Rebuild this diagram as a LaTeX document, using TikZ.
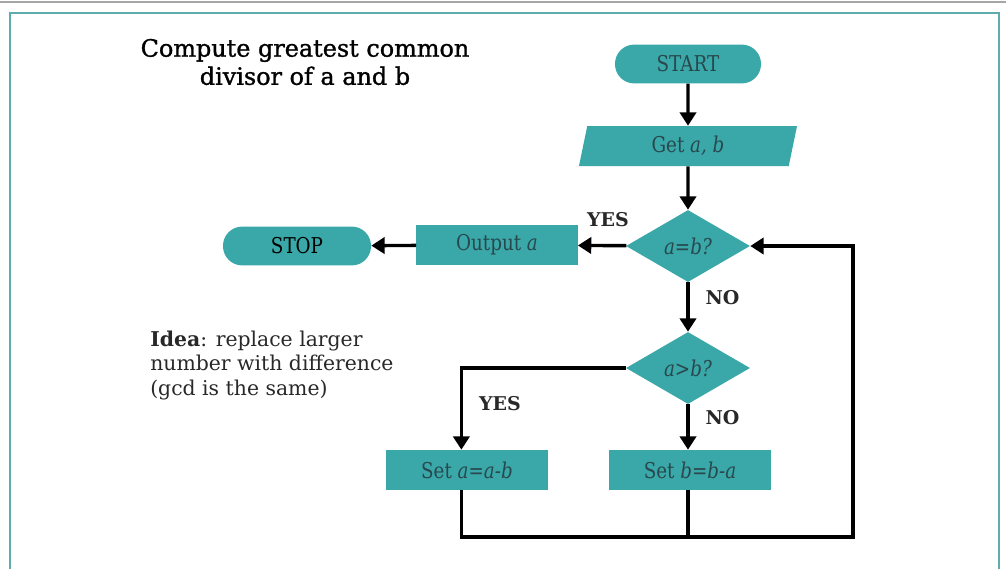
\documentclass[tikz,border=0pt]{standalone}
\usepackage{fontspec}
\setmainfont{DejaVu Serif}
\newfontfamily\boxfont[FakeStretch=0.84]{DejaVu Serif}
\newfontfamily\titlefont[FakeBold=1.2]{DejaVu Serif}
\usetikzlibrary{shapes.geometric,arrows.meta}

\definecolor{boxteal}{RGB}{58,168,168}
\definecolor{frameteal}{RGB}{96,172,172}
\definecolor{boxtext}{RGB}{40,72,78}
\definecolor{labeltext}{RGB}{40,40,40}

\tikzset{
  flow/.style={line width=2.4pt,-{Triangle[width=11.5pt,length=9.5pt]}},
  link/.style={line width=2.4pt},
  terminal/.style={fill=boxteal,rounded corners=0.48cm,minimum height=0.97cm,
    text=boxtext,font=\boxfont\fontsize{15.5}{17}\selectfont,inner sep=0pt},
  process/.style={fill=boxteal,minimum width=4.05cm,minimum height=1cm,
    text=boxtext,font=\boxfont\fontsize{15.5}{17}\selectfont,inner sep=0pt},
  io/.style={trapezium,trapezium left angle=67,trapezium right angle=113,
    trapezium stretches body,fill=boxteal,minimum width=5.45cm,minimum height=1cm,
    text=boxtext,font=\boxfont\fontsize{15.5}{17}\selectfont,inner sep=0pt},
  decision/.style={diamond,fill=boxteal,minimum width=3.1cm,minimum height=1.8cm,
    aspect=1.7,inner sep=0pt,text=boxtext,font=\boxfont\fontsize{15.5}{17}\selectfont},
  answer/.style={text=labeltext,font=\bfseries\fontsize{13.5}{15}\selectfont},
}

\begin{document}
\begin{tikzpicture}[x=0.025cm,y=-0.025cm]
    \useasboundingbox (0,0) rectangle (1006,568);

    % frame
    \draw[gray!70,line width=1pt] (0,2) -- (1006,2);
    \draw[frameteal,line width=1.6pt] (10,13) rectangle (999,590);

    % notes
    \node[align=center,text=black,font=\titlefont\fontsize{17}{20}\selectfont] (title) at (305,62)
        {Compute greatest common\\divisor of a and b};
    \node[align=left,anchor=north west,inner sep=0pt,text=labeltext,
        font=\fontsize{14.5}{17.2}\selectfont] (idea) at (150,331)
        {\textbf{Idea}: replace larger\\number with difference\\(gcd is the same)};

    % boxes
    \node[terminal,minimum width=3.65cm] (start) at (688,64) {START};
    \node[io] (get) at (688,146) {Get \textit{a, b}};
    \node[decision] (eq) at (688,246) {\textit{a=b?}};
    \node[process,minimum width=4.03cm] (out) at (497,245) {Output \textit{a}};
    \node[terminal,minimum width=3.7cm,text=black] (stop) at (297,246) {STOP};
    \node[decision] (gt) at (688,368) {\textit{a>b?}};
    \node[process] (seta) at (467,470) {Set \textit{a=a-b}};
    \node[process] (setb) at (690,470) {Set \textit{b=b-a}};
    \coordinate (loop) at (853,537);

    % arrows
    \draw[flow] (start) -- (get);
    \draw[flow] (get) -- (eq);
    \draw[flow] (eq) -- node[answer,above,pos=0.38,yshift=9pt] {YES} (out);
    \draw[flow] (out) -- (stop);
    \draw[flow] (eq) -- node[answer,right,pos=0.3,xshift=8pt] {NO} (gt);
    \draw[flow] (gt.west) -| node[answer,right,pos=0.72,xshift=8pt] {YES} ([xshift=-4]seta.north);
    \draw[flow] (gt) -- node[answer,right,pos=0.3,xshift=8pt] {NO} (setb.north -| gt.south);
    \draw[flow] ([xshift=-4]seta.south) |- (loop) |- (eq.east);
    \draw[link] (setb.south -| gt.south) -- (loop -| gt.south);
\end{tikzpicture}
\end{document}
